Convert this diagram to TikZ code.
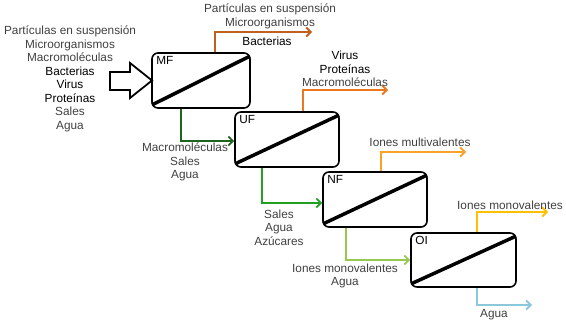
\documentclass[tikz,border=0pt]{standalone}
\usepackage{fontspec}
\setmainfont{Liberation Sans}
\usetikzlibrary{arrows.meta,calc}
\definecolor{txtg}{RGB}{64,64,64}
\definecolor{rmf}{RGB}{192,96,32}
\definecolor{ruf}{RGB}{235,120,30}
\definecolor{rnf}{RGB}{247,162,40}
\definecolor{roi}{RGB}{255,192,0}
\definecolor{pmf}{RGB}{30,100,30}
\definecolor{puf}{RGB}{34,160,34}
\definecolor{pnf}{RGB}{150,200,80}
\definecolor{poi}{RGB}{140,200,220}
\begin{document}
\begin{tikzpicture}[x=1pt,y=-1pt,
  every node/.style={font=\fontsize{11.8}{13.5}\selectfont, inner sep=0pt, align=center, text=txtg},
  membox/.style={draw=black, line width=1.6pt, rounded corners=6pt, fill=white, minimum height=55pt},
  blbl/.style={anchor=north west, text=black},
  flow/.style={line width=1.8pt, -{Straight Barb[length=4.5pt,width=9pt,line width=1.8pt]}},
  diag/.style={line width=3.5pt, black}]
\useasboundingbox (0,0) rectangle (566,324);

% membrane boxes
\node[membox, minimum width=98pt] (mf) at (201,80.5) {};
\node[membox, minimum width=104pt] (uf) at (287,139.5) {};
\node[membox, minimum width=104pt] (nf) at (375,199.5) {};
\node[membox, minimum width=105pt, minimum height=54pt] (oi) at (463.5,260) {};

\foreach \b in {mf,uf,nf,oi}{
  \draw[diag] ([shift={(1pt,4pt)}]\b.south west) -- ([shift={(-1pt,-4pt)}]\b.north east);
}

\node[blbl] (mft) at ([shift={(5pt,-4pt)}]mf.north west) {MF};
\node[blbl] (uft) at ([shift={(5pt,-4pt)}]uf.north west) {UF};
\node[blbl] (nft) at ([shift={(5pt,-4pt)}]nf.north west) {NF};
\node[blbl] (oit) at ([shift={(5pt,-4pt)}]oi.north west) {OI};

% feed
\node (feed) at (70,79) {Partículas en suspensión\\ Microorganismos\\ Macromoléculas\\ \textcolor{black}{Bacterias}\\ \textcolor{black}{Virus}\\ \textcolor{black}{Proteínas}\\ Sales\\ Agua};
\draw[line width=1.8pt, fill=white, line join=miter] (110,72) -- (130,72) -- (130,63) -- (152,80.5) -- (130,98) -- (130,90) -- (110,90) -- cycle;

% retentate endpoints
\coordinate (mfr) at (312,32);
\coordinate (ufr) at (388,90);
\coordinate (nfr) at (466,152);
\coordinate (oir) at (548,212);
\coordinate (oip) at (532,305);

\draw[flow, rmf] ([xshift=14pt]mf.north) |- (mfr);
\draw[flow, ruf] ([xshift=16pt]uf.north) |- (ufr);
\draw[flow, rnf] ([xshift=6pt]nf.north) |- (nfr);
\draw[flow, roi] ([xshift=13.5pt]oi.north) |- (oir);

\draw[flow, pmf] ([xshift=-20pt]mf.south) |- ([yshift=-1.5pt]uf.west);
\draw[flow, puf] ([xshift=-25pt]uf.south) |- ([yshift=-3.5pt]nf.west);
\draw[flow, pnf] ([xshift=-29pt]nf.south) |- (oi.west);
\draw[flow, poi] ([xshift=13.5pt]oi.south) |- (oip);

% labels
\node (l1) at (270,16.5) {Partículas en suspensión\\ Microorganismos};
\node[text=black] (l2) at (267,41) {Bacterias};
\node (l3) at (345,69) {\textcolor{black}{Virus}\\ \textcolor{black}{Proteínas}\\ Macromoléculas};
\node (l4) at (185,162) {Macromoléculas\\ Sales\\ Agua};
\node (l5) at (279,227.5) {Sales\\ Agua\\ Azúcares};
\node (l6) at (420,142) {Iones multivalentes};
\node (l7) at (510,205) {Iones monovalentes};
\node (l8) at (345,276) {Iones monovalentes\\ Agua};
\node (l9) at (494,315) {Agua};
\end{tikzpicture}
\end{document}
